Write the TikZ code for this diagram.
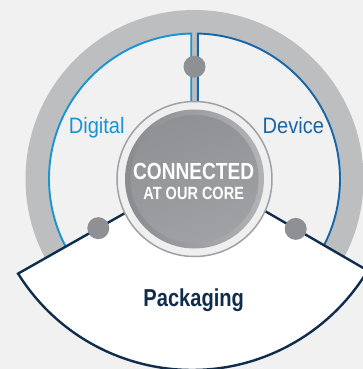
\documentclass[tikz,border=0pt]{standalone}
\usepackage{fontspec}
\usepackage{xcolor}
\usepackage{tikz}
\usetikzlibrary{calc}
\newfontfamily\condreg[FakeStretch=0.9]{Liberation Sans}
\newfontfamily\condbold[FakeStretch=0.82]{Liberation Sans}
\definecolor{bg}{HTML}{F1F1F1}
\definecolor{ring}{HTML}{BDBEC0}
\definecolor{digi}{HTML}{1A93D2}
\definecolor{dev}{HTML}{1766A8}
\definecolor{navy}{HTML}{0F2D4C}
\definecolor{knob}{HTML}{8F9094}
\definecolor{coreedge}{HTML}{A0A1A4}
\definecolor{coreband}{HTML}{EFEFEF}
\definecolor{coredark}{HTML}{8A8B8F}
\definecolor{corelight}{HTML}{B2B3B6}
\tikzset{
  sector/.style={fill=bg, line width=1.9pt, line join=miter},
  pack/.style={fill=white, draw=navy, line width=2.4pt, line join=miter},
  dot/.style={circle, fill=knob, inner sep=0pt, minimum size=22pt},
  lab/.style={font=\condreg\fontsize{22.3}{24}\selectfont, anchor=base, inner sep=0pt},
  big/.style={font=\condbold\bfseries\fontsize{23.3}{25}\selectfont, anchor=base, inner sep=0pt, text=white},
  small/.style={font=\condbold\bfseries\fontsize{17.7}{19}\selectfont, anchor=base, inner sep=0pt, text=white},
}
\begin{document}
\begin{tikzpicture}[x=1pt,y=1pt]
  \def\rin{145.5}
  \def\rout{169}
  \coordinate (O) at (0,0);
  \coordinate (A) at (3,7);
  \coordinate (L) at (-176.4,-94.6);
  \coordinate (R) at ($(-2.55,14)+(329:205)$);

  \fill[bg] (-194.5,-190) rectangle (168.5,179);
  \useasboundingbox (-194.5,-190) rectangle (168.5,179);
  \fill[ring] (O) circle (\rout);

  % the two upper sectors
  \draw[sector, draw=digi] (-3.3,60) -- (-3.3,145.46)
    arc[start angle=91.3, end angle=212, radius=\rin] -- (212:60) -- cycle;
  \draw[sector, draw=dev] (3.3,60) -- (3.3,145.46)
    arc[start angle=88.7, end angle=-32, radius=\rin] -- (-32:60) -- cycle;
  \draw[pack] (A) -- (L) arc[start angle=212, end angle=329, radius=205] -- cycle;

  \node[dot] (top) at (0,112.3) {};
  \node[dot] (left) at ($(A)!0.553!(L)$) {};
  \node[dot] (right) at ($(A)!0.577!(R)$) {};

  % core
  \draw[draw=coreedge, fill=coreband, line width=1.5pt] (O) circle (77.5);
  \shade[left color=coredark, right color=corelight] (O) circle (69.5);
  \shade[left color=coredark!95!white, right color=corelight!90!black, shading angle=20] (O) circle (64);

  \node[big] (conn) at (-0.8,-1) {CONNECTED};
  \node[small] (core) at (-0.8,-20.3) {AT OUR CORE};
  \node[lab, text=digi] (digital) at (-97.8,45.5) {Digital};
  \node[lab, text=dev] (device) at (98.8,45) {Device};
  \node[big, text=navy, font=\condbold\bfseries\fontsize{24.5}{26}\selectfont] (packaging) at (-0.8,-127) {Packaging};
\end{tikzpicture}
\end{document}
